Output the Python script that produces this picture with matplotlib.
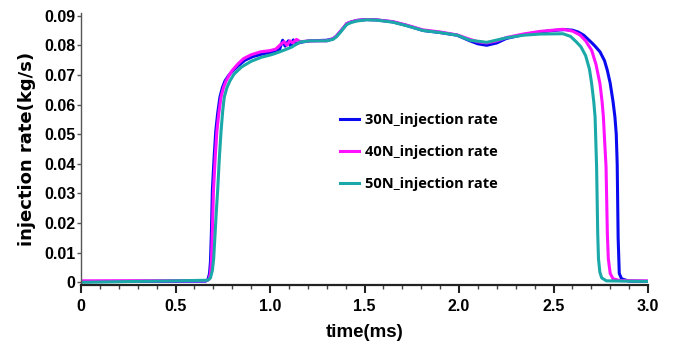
import matplotlib.pyplot as plt
from matplotlib.ticker import MultipleLocator

# 30N injection rate
t30 = [0, 0.66, 0.672, 0.68, 0.685, 0.69, 0.695, 0.705, 0.713, 0.723, 0.735, 0.748,
       0.762, 0.78, 0.797, 0.83, 0.868, 0.91, 0.956, 1.0, 1.03, 1.05, 1.067, 1.08,
       1.097, 1.11, 1.123, 1.14, 1.16, 1.21, 1.30, 1.333, 1.35, 1.37, 1.39, 1.406,
       1.43, 1.46, 1.51, 1.56, 1.60, 1.65, 1.723, 1.81, 1.90, 1.99, 2.058, 2.10,
       2.147, 2.20, 2.25, 2.34, 2.43, 2.50, 2.56, 2.60, 2.63, 2.66, 2.70, 2.72,
       2.746, 2.77, 2.785, 2.80, 2.815, 2.825, 2.832, 2.837, 2.842, 2.848, 2.86, 2.9, 3.0]
q30 = [0.0003, 0.0004, 0.001, 0.003, 0.007, 0.017, 0.031, 0.043, 0.051, 0.057, 0.0625, 0.0657,
       0.068, 0.0697, 0.071, 0.073, 0.075, 0.0762, 0.077, 0.0776, 0.078, 0.0785, 0.0817, 0.0797,
       0.0815, 0.0796, 0.0818, 0.0805, 0.081, 0.0815, 0.0817, 0.0822, 0.083, 0.0845, 0.086, 0.0873,
       0.0879, 0.0884, 0.0887, 0.0886, 0.0883, 0.0879, 0.0867, 0.0850, 0.0843, 0.0834, 0.0815, 0.0805,
       0.0800, 0.0808, 0.0823, 0.0836, 0.0845, 0.085, 0.0853, 0.0851, 0.0845, 0.0834, 0.081, 0.0797,
       0.0778, 0.0748, 0.0715, 0.0672, 0.061, 0.0558, 0.050, 0.040, 0.015, 0.003, 0.0012, 0.0004, 0.0003]

# 40N injection rate
t40 = [0, 0.665, 0.677, 0.685, 0.69, 0.695, 0.701, 0.711, 0.719, 0.729, 0.741, 0.754,
       0.768, 0.785, 0.80, 0.83, 0.86, 0.90, 0.95, 1.0, 1.03, 1.06, 1.075, 1.09,
       1.105, 1.12, 1.14, 1.16, 1.21, 1.30, 1.333, 1.35, 1.37, 1.39, 1.406, 1.43,
       1.46, 1.51, 1.56, 1.60, 1.65, 1.723, 1.81, 1.90, 1.99, 2.058, 2.10, 2.147,
       2.20, 2.25, 2.34, 2.43, 2.55, 2.60, 2.64, 2.67, 2.702, 2.725, 2.746, 2.757,
       2.764, 2.772, 2.778, 2.785, 2.79, 2.80, 2.815, 2.85, 3.0]
q40 = [0.0005, 0.0006, 0.001, 0.003, 0.007, 0.017, 0.031, 0.043, 0.051, 0.057, 0.0625, 0.0657,
       0.068, 0.070, 0.0715, 0.0737, 0.0755, 0.0768, 0.0778, 0.0782, 0.0787, 0.0805, 0.0812, 0.080,
       0.0815, 0.0808, 0.082, 0.0812, 0.0815, 0.0815, 0.0822, 0.083, 0.0845, 0.086, 0.0873, 0.0879,
       0.0884, 0.0887, 0.0886, 0.0883, 0.088, 0.0868, 0.0852, 0.0845, 0.0835, 0.082, 0.0812, 0.0808,
       0.0815, 0.0826, 0.0838, 0.0847, 0.0854, 0.0848, 0.0835, 0.0815, 0.0783, 0.0735, 0.067, 0.061,
       0.0558, 0.046, 0.039, 0.0164, 0.008, 0.003, 0.0012, 0.0006, 0.0005]

# 50N injection rate
t50 = [0, 0.67, 0.685, 0.695, 0.702, 0.71, 0.716, 0.723, 0.732, 0.741, 0.75, 0.758,
       0.772, 0.788, 0.81, 0.85, 0.90, 0.956, 1.0, 1.026, 1.08, 1.10, 1.115, 1.159,
       1.21, 1.30, 1.333, 1.35, 1.37, 1.39, 1.406, 1.43, 1.46, 1.51, 1.56, 1.60,
       1.65, 1.723, 1.81, 1.90, 1.99, 2.058, 2.147, 2.25, 2.34, 2.43, 2.55, 2.59,
       2.62, 2.645, 2.67, 2.69, 2.702, 2.713, 2.72, 2.728, 2.734, 2.738, 2.745, 2.755,
       2.78, 3.0]
q50 = [0.0, 0.0007, 0.0015, 0.004, 0.008, 0.017, 0.024, 0.031, 0.042, 0.051, 0.058, 0.0625,
       0.0657, 0.068, 0.0703, 0.0727, 0.0746, 0.076, 0.0767, 0.0772, 0.0785, 0.079, 0.0794, 0.0811,
       0.0815, 0.0815, 0.082, 0.0828, 0.0842, 0.0858, 0.087, 0.0877, 0.0882, 0.0886, 0.0885, 0.0882,
       0.0878, 0.0866, 0.0850, 0.0843, 0.0834, 0.0817, 0.081, 0.0825, 0.0834, 0.0838, 0.0839, 0.083,
       0.0812, 0.0795, 0.0765, 0.072, 0.067, 0.061, 0.0558, 0.039, 0.0164, 0.008, 0.0035, 0.0015,
       0.0005, 0.0003]

labels = ['30N_injection rate', '40N_injection rate', '50N_injection rate']
colors = ['#0a0af0', '#ff10ff', '#1aa8a8']

xticks = [0, 0.5, 1.0, 1.5, 2.0, 2.5, 3.0]
xticklabels = ['0', '0.5', '1.0', '1.5', '2.0', '2.5', '3.0']
yticks = [0, 0.01, 0.02, 0.03, 0.04, 0.05, 0.06, 0.07, 0.08, 0.09]
yticklabels = ['0', '0.01', '0.02', '0.03', '0.04', '0.05', '0.06', '0.07', '0.08', '0.09']

tickfont = ['Liberation Sans', 'DejaVu Sans']

fig = plt.figure(figsize=(6.73, 3.48), dpi=100)
ax = fig.add_axes([81 / 673, 63 / 348, 567 / 673, 272.3 / 348])

for t, q, lab, c in zip([t30, t40, t50], [q30, q40, q50], labels, colors):
    ax.plot(t, q, color=c, lw=2.2, label=lab, solid_joinstyle='round')

ax.set_xlim(0, 3.0)
ax.set_ylim(-0.0009, 0.091)

ax.spines['top'].set_visible(False)
ax.spines['right'].set_visible(False)
ax.spines['left'].set_color('#555555')
ax.spines['left'].set_linewidth(1.0)
ax.spines['bottom'].set_color('#222222')
ax.spines['bottom'].set_linewidth(1.6)

ax.set_xticks(xticks)
ax.set_xticklabels(xticklabels, fontfamily=tickfont, fontweight='bold', fontsize=11.5)
ax.xaxis.set_minor_locator(MultipleLocator(0.1))
ax.set_yticks(yticks)
ax.set_yticklabels(yticklabels, fontfamily=tickfont, fontweight='bold', fontsize=11.5)
ax.tick_params(axis='x', which='major', length=6, width=1.5, color='#222222', pad=4)
ax.tick_params(axis='x', which='minor', length=3, width=1.0, color='#444444')
ax.tick_params(axis='y', which='major', length=3, width=1.0, color='#555555', pad=1)

ax.set_xlabel('time(ms)', fontfamily=tickfont, fontweight='bold', fontsize=13.5, labelpad=7)
ax.set_ylabel('injection rate(kg/s)', fontfamily='DejaVu Sans', fontweight='bold', fontsize=13, labelpad=6)

leg = ax.legend(loc='upper left', bbox_to_anchor=(340 / 673, 1 - 113 / 348),
                bbox_transform=fig.transFigure, frameon=False, borderpad=0,
                borderaxespad=0, handlelength=1.3, handletextpad=0.4,
                labelspacing=1.25, prop={'family': ['Open Sans', 'DejaVu Sans'], 'weight': 'bold', 'size': 10.5})

fig.savefig('out.png', dpi=100)
